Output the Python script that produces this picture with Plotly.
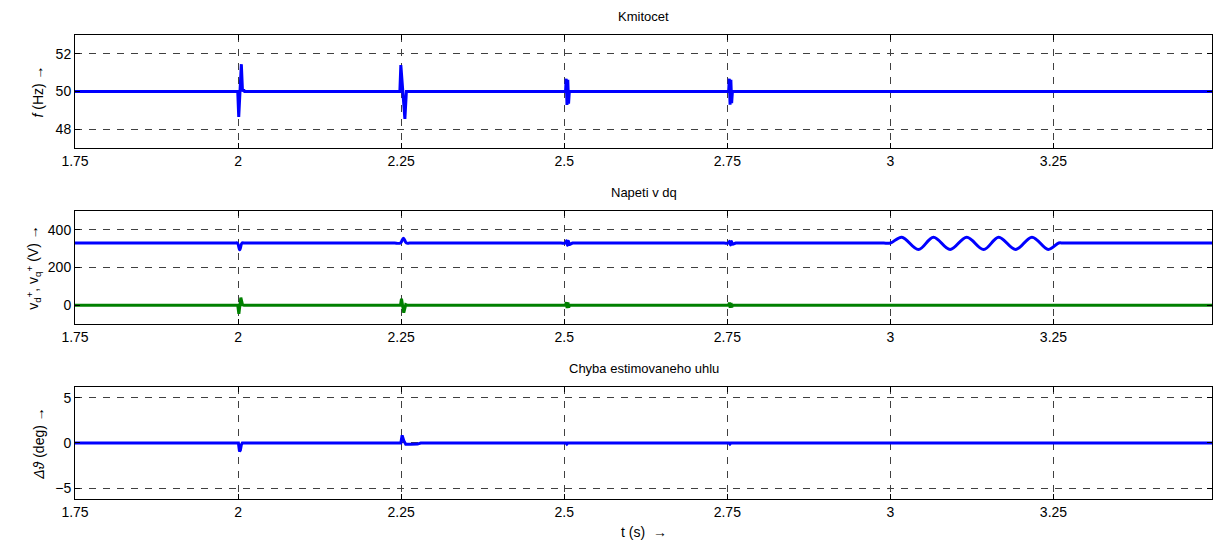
import plotly.graph_objects as go

# ---------------- data ----------------
x_ticks = [1.75, 2, 2.25, 2.5, 2.75, 3, 3.25]
x_tick_text = ["1.75", "2", "2.25", "2.5", "2.75", "3", "3.25"]

# Frequency (Hz)
t_f = [1.75, 1.9995, 2.0010, 2.0030, 2.0050, 2.0068, 2.0085, 2.0100,
       2.2480, 2.2495, 2.2520, 2.2557, 2.2580, 2.2600,
       2.5020, 2.5030, 2.5042, 2.5054, 2.5066, 2.5078,
       2.7520, 2.7530, 2.7542, 2.7554, 2.7566, 2.7578, 3.5]
f_hz = [50, 50, 48.65, 50, 51.45, 50.0, 50.1, 50,
        50, 51.4, 50, 48.55, 50, 50,
        50, 50.68, 49.28, 50.62, 49.35, 50,
        50, 50.68, 49.30, 50.62, 49.38, 50, 50]

# Voltage d-component (V)
t_vd = [1.75, 1.99, 1.995, 1.999, 2.0026, 2.006, 2.010, 2.015,
        2.235, 2.240, 2.249, 2.2535, 2.258, 2.263, 2.268,
        2.490, 2.495, 2.502, 2.5035, 2.505, 2.5065, 2.508, 2.513, 2.518,
        2.740, 2.745, 2.752, 2.7535, 2.755, 2.7565, 2.758, 2.763, 2.768,
        2.985, 2.99, 3.0, 3.0175, 3.043, 3.066, 3.0915, 3.117, 3.143,
        3.166, 3.192, 3.217, 3.242, 3.258, 3.264, 3.270, 3.5]
vd = [330, 330, 330, 330, 294, 330, 330, 330,
      330, 330, 330, 356, 330, 330, 330,
      330, 330, 330, 342, 318, 340, 322, 330, 330,
      330, 330, 330, 340, 320, 338, 324, 330, 330,
      330, 330, 330, 361, 296, 361, 296, 361, 296,
      361, 296, 361, 296, 330, 330, 330, 330]

# Voltage q-component (V)
t_vq = [1.75, 1.9995, 2.0012, 2.0042, 2.0068, 2.0090,
        2.2490, 2.2505, 2.2540, 2.2570, 2.2590,
        2.5020, 2.5032, 2.5044, 2.5056, 2.5068, 2.5080,
        2.7520, 2.7532, 2.7544, 2.7556, 2.7568, 2.7580, 3.5]
vq = [0, 0, -45, 40, 2, 0,
      0, 35, -40, 3, 0,
      0, 16, -15, 14, -12, 0,
      0, 14, -13, 12, -10, 0, 0]

# Estimated angle error (deg)
t_ang = [1.75, 2.0005, 2.0022, 2.0035, 2.0050, 2.0065,
         2.2495, 2.2515, 2.2540, 2.2570, 2.2650, 2.2750, 2.2800,
         2.5025, 2.5040, 2.5055, 2.7525, 2.7540, 2.7555, 3.5]
ang = [0, 0, -0.95, -0.8, -0.2, 0,
       0, 0.85, 0.25, -0.14, -0.14, -0.12, 0,
       0, -0.12, 0, 0, -0.12, 0, 0]

# ---------------- figure ----------------
FONT = "Liberation Sans, Arial, Helvetica, sans-serif"
BLUE = "#0000ff"
GREEN = "#008000"

fig = go.Figure()
fig.add_trace(go.Scatter(x=t_f, y=f_hz, mode="lines",
                         line=dict(color=BLUE, width=3), xaxis="x", yaxis="y"))
fig.add_trace(go.Scatter(x=t_vd, y=vd, mode="lines",
                         line=dict(color=BLUE, width=3, shape="spline", smoothing=1),
                         xaxis="x2", yaxis="y2"))
fig.add_trace(go.Scatter(x=t_vq, y=vq, mode="lines",
                         line=dict(color=GREEN, width=3), xaxis="x2", yaxis="y2"))
fig.add_trace(go.Scatter(x=t_ang, y=ang, mode="lines",
                         line=dict(color=BLUE, width=3), xaxis="x3", yaxis="y3"))

common = dict(showline=True, linecolor="black", linewidth=1, mirror="ticks",
              ticks="inside", ticklen=5, tickcolor="black",
              showgrid=True, gridcolor="#404040", gridwidth=1, griddash="7px,7px",
              zeroline=False, tickfont=dict(family=FONT, size=14, color="black"))

xcommon = dict(common, range=[1.75, 3.493], tickvals=x_ticks, ticktext=x_tick_text)

ttl_font = dict(family=FONT, size=14, color="black")

fig.update_layout(
    width=1213, height=542,
    margin=dict(l=75, r=1, t=35, b=43),
    paper_bgcolor="white", plot_bgcolor="white",
    showlegend=False,
    font=dict(family=FONT, color="black"),
    xaxis=dict(xcommon, domain=[0, 1], anchor="y"),
    xaxis2=dict(xcommon, domain=[0, 1], anchor="y2"),
    xaxis3=dict(xcommon, domain=[0, 1], anchor="y3"),
    yaxis=dict(common, domain=[0.7565, 1.0], anchor="x", range=[47, 53],
               tickvals=[48, 50, 52],
               title=dict(text="<i>f</i> (Hz) \u2192", font=ttl_font, standoff=8)),
    yaxis2=dict(common, domain=[0.377, 0.6207], anchor="x2", range=[-100, 500],
                tickvals=[0, 200, 400],
                title=dict(text="v<sub>d</sub><sup>+</sup>, v<sub>q</sub><sup>+</sup> (V) \u2192",
                           font=ttl_font, standoff=5)),
    yaxis3=dict(common, domain=[0, 0.2414], anchor="x3", range=[-6.2, 6.2],
                tickvals=[-5, 0, 5],
                title=dict(text="<i>\u0394\u03d1</i> (deg) \u2192", font=ttl_font, standoff=7)),
)

titles = [("Kmitocet", 1.0, 19), ("Napeti v dq", 0.6207, 18),
          ("Chyba estimovaneho uhlu", 0.2414, 18)]
for txt, yy, sh in titles:
    fig.add_annotation(text=txt, x=0.5, xref="paper", y=yy, yref="paper",
                       yanchor="middle", yshift=sh, showarrow=False,
                       font=dict(family=FONT, size=13, color="black"))

fig.add_annotation(text="t (s)  \u2192", x=0.5, xref="paper", y=0, yref="paper",
                   yanchor="middle", yshift=-33, showarrow=False,
                   font=dict(family=FONT, size=14, color="black"))

fig.write_html("out.html")
